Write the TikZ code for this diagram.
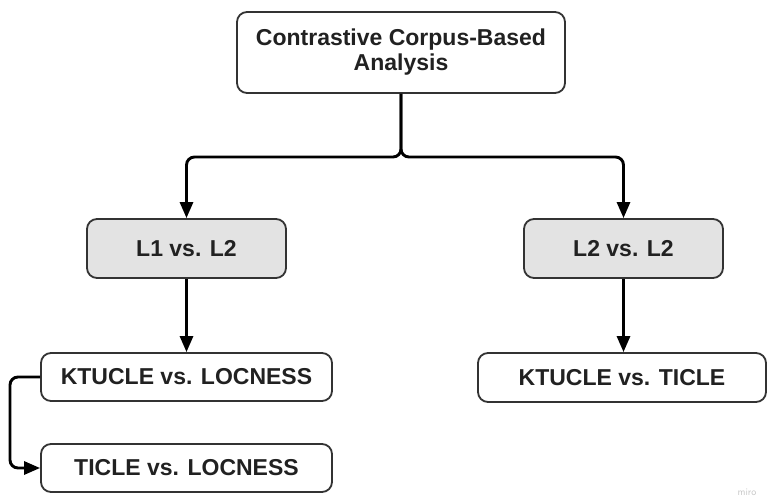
\documentclass[tikz,border=0pt]{standalone}
\usepackage{fontspec}
\setmainfont{Liberation Sans}
\usetikzlibrary{arrows.meta}

\tikzset{
  box/.style={draw=black!80, line width=1.8pt, rounded corners=10pt,
    fill=white, inner sep=0pt, align=center,
    font=\bfseries\fontsize{23}{25}\selectfont, text=black!87},
  graybox/.style={box, fill=black!11},
  link/.style={line width=2.9pt, rounded corners=8pt,
    -{Triangle[length=16pt,width=13pt]}},
}

\begin{document}
\begin{tikzpicture}[x=1pt,y=-1pt]
  \useasboundingbox (0,0) rectangle (768,501);

  % root
  \node[box, minimum width=328pt, minimum height=81pt] (root) at (401,52.5)
    {Contrastive Corpus-Based\\Analysis};

  % second level
  \node[graybox, minimum width=199pt, minimum height=59pt] (l1) at (186.5,248.5) {L1 vs. L2};
  \node[graybox, minimum width=199pt, minimum height=59pt] (l2) at (623.5,248.5) {L2 vs. L2};

  % leaves
  \node[box, minimum width=291pt, minimum height=48pt] (kl) at (186.5,377) {KTUCLE vs. LOCNESS};
  \node[box, minimum width=291pt, minimum height=48pt] (tl) at (186.5,468) {TICLE vs. LOCNESS};
  \node[box, minimum width=288pt, minimum height=49pt] (kt) at (622,377.5) {KTUCLE vs. TICLE};

  % branch split
  \coordinate (split) at (401,157);
  \draw[link] (root.south) -- (split) -| (l1.north);
  \draw[link] (root.south) -- (split) -| (l2.north);

  % down to the leaves
  \draw[link] (l1.south) -- (l1.south |- kl.north);
  \draw[link] (l2.south) -- (l2.south |- kt.north);

  % side link between the left leaves
  \coordinate (bendA) at (10,377);
  \coordinate (bendB) at (10,468);
  \draw[link] (kl.west) -- (bendA) -- (bendB) -- (tl.west);

  % watermark
  \node[font=\sffamily\fontsize{10}{10}\selectfont, text=black!22] (mark) at (747,492) {miro};
\end{tikzpicture}
\end{document}
